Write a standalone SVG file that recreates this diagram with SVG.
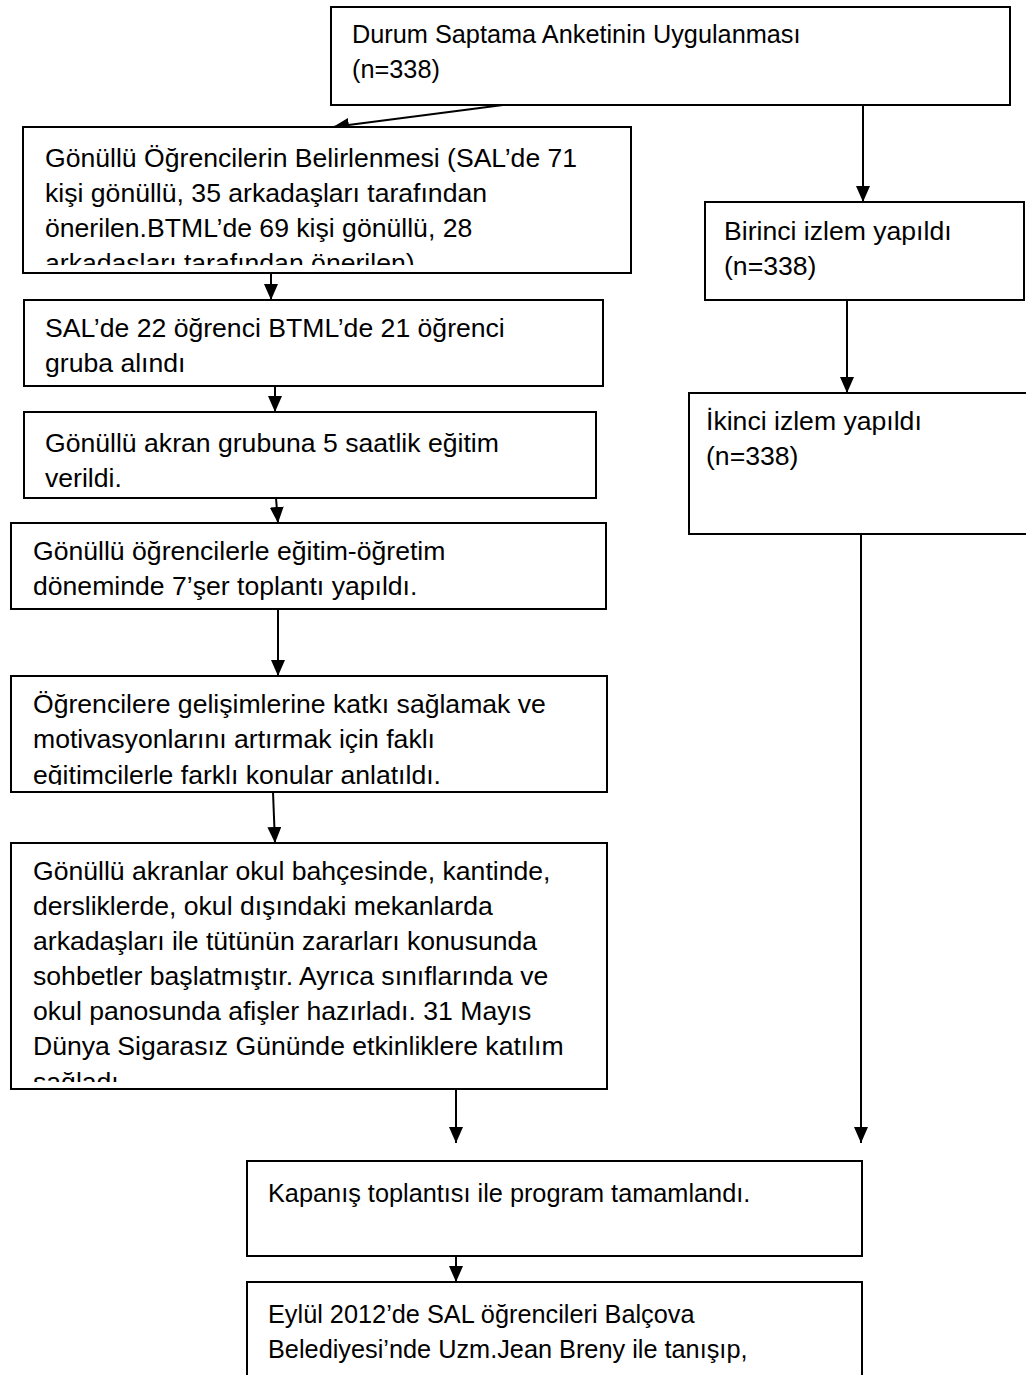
<svg xmlns="http://www.w3.org/2000/svg" width="1026" height="1375" viewBox="0 0 1026 1375">
  <style>
    .box { fill: #ffffff; stroke: #000000; stroke-width: 2; }
    .txt { font-family: "Liberation Sans", Arial, sans-serif; font-size: 25.3px; fill: #000000; }
    .big { font-size: 26.6px; }
    .conn { fill: none; stroke: #000000; stroke-width: 2; }
  </style>
  <defs>
    <marker id="arrow" viewBox="0 0 16 14" refX="16" refY="7" markerWidth="16" markerHeight="14" markerUnits="userSpaceOnUse" orient="auto">
      <path d="M0,0 L16,7 L0,14 z" fill="#000000"/>
    </marker>
    <clipPath id="clip-n2"><rect x="24" y="128" width="606" height="137"/></clipPath>
    <clipPath id="clip-n6"><rect x="12" y="677" width="594" height="108"/></clipPath>
    <clipPath id="clip-n7"><rect x="12" y="844" width="594" height="238"/></clipPath>
  </defs>

  <!-- connectors -->
  <g id="connectors">
    <line class="conn" x1="503" y1="105" x2="333" y2="127" marker-end="url(#arrow)"/>
    <line class="conn" x1="863" y1="105" x2="863" y2="202" marker-end="url(#arrow)"/>
    <line class="conn" x1="271" y1="273" x2="271" y2="300" marker-end="url(#arrow)"/>
    <line class="conn" x1="275" y1="386" x2="275" y2="412" marker-end="url(#arrow)"/>
    <line class="conn" x1="276" y1="498" x2="278" y2="523" marker-end="url(#arrow)"/>
    <line class="conn" x1="278" y1="609" x2="278" y2="676" marker-end="url(#arrow)"/>
    <line class="conn" x1="273" y1="792" x2="275" y2="843" marker-end="url(#arrow)"/>
    <line class="conn" x1="847" y1="300" x2="847" y2="393" marker-end="url(#arrow)"/>
    <line class="conn" x1="861" y1="534" x2="861" y2="1143" marker-end="url(#arrow)"/>
    <line class="conn" x1="456" y1="1089" x2="456" y2="1143" marker-end="url(#arrow)"/>
    <line class="conn" x1="456" y1="1256" x2="456" y2="1282" marker-end="url(#arrow)"/>
  </g>

  <!-- survey -->
  <g id="n1">
    <rect class="box" x="331" y="7" width="679" height="98"/>
    <text class="txt" x="352" y="43">Durum Saptama Anketinin Uygulanması</text>
    <text class="txt" x="352" y="78">(n=338)</text>
  </g>

  <g id="n2">
    <rect class="box" x="23" y="127" width="608" height="146"/>
    <g clip-path="url(#clip-n2)">
      <text class="txt big" x="45" y="167">Gönüllü Öğrencilerin Belirlenmesi (SAL’de 71</text>
      <text class="txt big" x="45" y="202">kişi gönüllü, 35 arkadaşları tarafından</text>
      <text class="txt big" x="45" y="237">önerilen.BTML’de 69 kişi gönüllü, 28</text>
      <text class="txt big" x="45" y="272">arkadaşları tarafından önerilen)</text>
    </g>
  </g>

  <g id="n3">
    <rect class="box" x="24" y="300" width="579" height="86"/>
    <text class="txt big" x="45" y="337">SAL’de 22 öğrenci BTML’de 21 öğrenci</text>
    <text class="txt big" x="45" y="372">gruba alındı</text>
  </g>

  <g id="n4">
    <rect class="box" x="24" y="412" width="572" height="86"/>
    <text class="txt big" x="45" y="452">Gönüllü akran grubuna 5 saatlik eğitim</text>
    <text class="txt big" x="45" y="487">verildi.</text>
  </g>

  <g id="n5">
    <rect class="box" x="11" y="523" width="595" height="86"/>
    <text class="txt big" x="33" y="560">Gönüllü öğrencilerle eğitim-öğretim</text>
    <text class="txt big" x="33" y="595">döneminde 7’şer toplantı yapıldı.</text>
  </g>

  <g id="n6">
    <rect class="box" x="11" y="676" width="596" height="116"/>
    <g clip-path="url(#clip-n6)">
      <text class="txt big" x="33" y="713">Öğrencilere gelişimlerine katkı sağlamak ve</text>
      <text class="txt big" x="33" y="748">motivasyonlarını artırmak için faklı</text>
      <text class="txt big" x="33" y="784">eğitimcilerle farklı konular anlatıldı.</text>
    </g>
  </g>

  <g id="n7">
    <rect class="box" x="11" y="843" width="596" height="246"/>
    <g clip-path="url(#clip-n7)">
      <text class="txt big" x="33" y="880">Gönüllü akranlar okul bahçesinde, kantinde,</text>
      <text class="txt big" x="33" y="915">dersliklerde, okul dışındaki mekanlarda</text>
      <text class="txt big" x="33" y="950">arkadaşları ile tütünün zararları konusunda</text>
      <text class="txt big" x="33" y="985">sohbetler başlatmıştır. Ayrıca sınıflarında ve</text>
      <text class="txt big" x="33" y="1020">okul panosunda afişler hazırladı. 31 Mayıs</text>
      <text class="txt big" x="33" y="1055">Dünya Sigarasız Gününde etkinliklere katılım</text>
      <text class="txt big" x="33" y="1091">sağladı.</text>
    </g>
  </g>

  <!-- follow-up column -->
  <g id="r1">
    <rect class="box" x="705" y="202" width="319" height="98"/>
    <text class="txt big" x="724" y="240">Birinci izlem yapıldı</text>
    <text class="txt big" x="724" y="275">(n=338)</text>
  </g>

  <g id="r2">
    <rect class="box" x="689" y="393" width="340" height="141"/>
    <text class="txt big" x="706" y="430">İkinci izlem yapıldı</text>
    <text class="txt big" x="706" y="465">(n=338)</text>
  </g>

  <!-- closing -->
  <g id="n8">
    <rect class="box" x="247" y="1161" width="615" height="95"/>
    <text class="txt" x="268" y="1202">Kapanış toplantısı ile program tamamlandı.</text>
  </g>

  <g id="n9">
    <rect class="box" x="247" y="1282" width="615" height="110"/>
    <text class="txt" x="268" y="1323">Eylül 2012’de SAL öğrencileri Balçova</text>
    <text class="txt" x="268" y="1358">Belediyesi’nde Uzm.Jean Breny ile tanışıp,</text>
  </g>
</svg>
